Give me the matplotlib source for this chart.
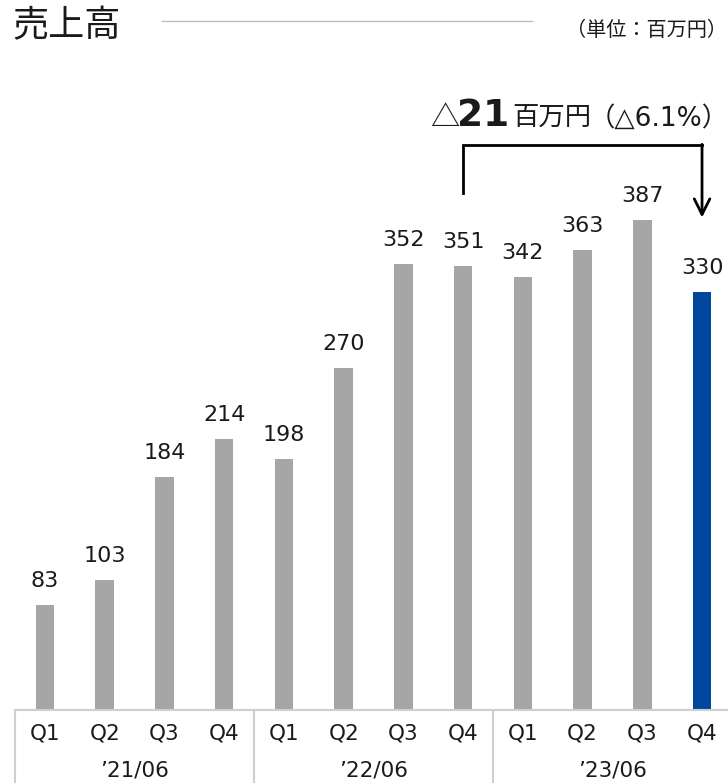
import matplotlib
matplotlib.use('Agg')
import matplotlib.pyplot as plt
from matplotlib.transforms import offset_copy

plt.rcParams['font.family'] = ['Noto Sans CJK JP', 'DejaVu Sans']
NUM = ['DejaVu Sans', 'Noto Sans CJK JP']
CJK = ['Noto Sans CJK JP', 'DejaVu Sans']

quarters = ['Q1', 'Q2', 'Q3', 'Q4'] * 3
years = ["’21/06", "’22/06", "’23/06"]
sales = [83, 103, 184, 214, 198, 270, 352, 351, 342, 363, 387, 330]
title = '売上高'
unit = '（単位：百万円）'
delta_parts = ['△', '21', '百万円', '（△6.1%）']

W, H = 728, 783
PX = 1.266            # pixels per unit
BASE = 710            # baseline, px from top
gray = '#A6A6A6'
blue = '#00479D'
line_gray = '#CFCFCF'
txt = '#1A1A1A'

fig = plt.figure(figsize=(W / 100, H / 100), dpi=100)
ax = fig.add_axes([0, (H - BASE) / H, 1, BASE / H])
step = 59.73
ax.set_xlim(-45 / step, (W - 45) / step)
ax.set_ylim(0, BASE / PX)
ax.axis('off')

x = list(range(len(sales)))
colors = [gray] * (len(sales) - 1) + [blue]
ax.bar(x, sales, width=0.31, color=colors, zorder=2)

for xi, v in zip(x, sales):
    ax.annotate(str(v), (xi, v), xytext=(0, 13), textcoords='offset points',
                ha='center', va='baseline', fontsize=16, color=txt, family=NUM)

# category axis below the bars
ax.plot([-0.5, x[-1] + 1], [0, 0], color=line_gray, lw=1.5, clip_on=False)
bottom = -(H - BASE) / PX
for g in range(len(years)):
    ax.plot([g * 4 - 0.5] * 2, [0, bottom], color=line_gray, lw=1.5, clip_on=False)
    ax.text(g * 4 + 1.5, -67 / PX, years[g], ha='center', va='baseline',
            fontsize=15.5, color=txt, clip_on=False, family=NUM)
for xi, q in zip(x, quarters):
    ax.text(xi, -30 / PX, q, ha='center', va='baseline', fontsize=15.5,
            color=txt, clip_on=False, family=NUM)

# change bracket from last year's Q4 to this Q4
i0, i1 = 7, 11
y_low = sales[i0] + 57
y_top = sales[i0] + 95
y_tip = sales[i1] + 59
ax.plot([i0, i0, i1], [y_low, y_top, y_top], color='black', lw=2,
        solid_joinstyle='miter', clip_on=False)
ax.annotate('', xy=(i1, y_tip), xytext=(i1, y_top + 0.8),
            arrowprops=dict(arrowstyle='->', lw=2, color='black',
                            mutation_scale=28, shrinkA=0, shrinkB=0))

# delta text built from pieces
fig.canvas.draw()
r = fig.canvas.get_renderer()
ty = (BASE - 126) / PX
x0 = 6.45
styles = [dict(fontsize=21, family=CJK),
          dict(fontsize=27, family=NUM, fontweight='bold'),
          dict(fontsize=19, family=CJK),
          dict(fontsize=19, family=NUM)]
gaps = [-2, 3, -3, 0]
w = 0
for part, st, gap in zip(delta_parts, styles, gaps):
    t = ax.text(x0, ty, part, va='baseline', color=txt, clip_on=False,
                transform=offset_copy(ax.transData, fig=fig, x=w, y=0, units='dots'), **st)
    w += t.get_window_extent(r).width + gap

# header
fig.text(12 / W, 1 - 26 / H, title, fontsize=26, va='center', color=txt)
fig.add_artist(plt.Line2D([162 / W, 532 / W], [1 - 21 / H] * 2, color='#BDBDBD', lw=1))
fig.text(1 - 1 / W, 1 - 30 / H, unit, fontsize=14.5, ha='right', va='center', color=txt)

fig.savefig('out.png', dpi=100)
